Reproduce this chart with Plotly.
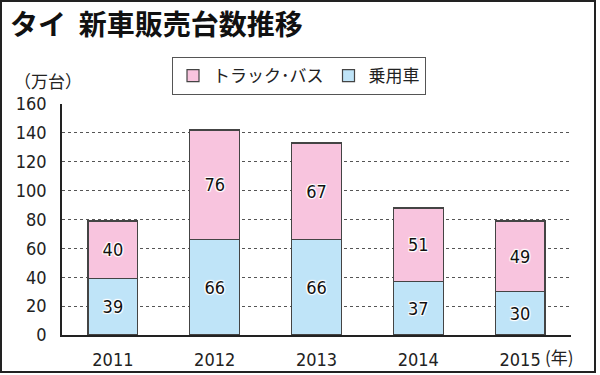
import plotly.graph_objects as go

years = ["2011", "2012", "2013", "2014", "2015"]
passenger = [39, 66, 66, 37, 30]
truck_bus = [40, 76, 67, 51, 49]
y_ticks = [0, 20, 40, 60, 80, 100, 120, 140, 160]

W, H = 600, 375
L, R, T, B = 62, 29, 104, 40
pw, ph = W - L - R, H - T - B

def px(x):
    return (x - L) / pw

def py(y):
    return (H - B - y) / ph

NUM_FONT = "DejaVu Sans Condensed, Liberation Sans Narrow, Liberation Sans, sans-serif"
JP_FONT = "Noto Sans CJK JP, sans-serif"
halo = "1px 1px 1px white, -1px -1px 1px white, 1px -1px 1px white, -1px 1px 1px white, 0px 0px 2px white"

fig = go.Figure()
fig.add_trace(go.Bar(
    x=years, y=passenger, name="乗用車", legendrank=2,
    marker=dict(color="#BFE4F8", line=dict(color="#444444", width=1.2)),
    text=passenger, textposition="inside", insidetextanchor="middle",
    textfont=dict(family=NUM_FONT, size=18, color="#111111", shadow=halo),
    width=0.49,
))
fig.add_trace(go.Bar(
    x=years, y=truck_bus, name="トラック･バス", legendrank=1,
    marker=dict(color="#F8C4DE", line=dict(color="#444444", width=1.2)),
    text=truck_bus, textposition="inside", insidetextanchor="middle",
    textfont=dict(family=NUM_FONT, size=18, color="#111111", shadow=halo),
    width=0.49,
))

fig.update_layout(
    width=W, height=H,
    margin=dict(l=L, r=R, t=T, b=B, autoexpand=False),
    barmode="stack",
    paper_bgcolor="white", plot_bgcolor="white",
    showlegend=True,
    legend=dict(
        orientation="h", x=px(172), y=py(57), xanchor="left", yanchor="top",
        bordercolor="#555555", borderwidth=1, bgcolor="white",
        font=dict(family=JP_FONT, size=17, color="#222222"),
        itemwidth=30, traceorder="normal",
    ),
    xaxis=dict(
        showline=True, linecolor="#222222", linewidth=1.5,
        tickfont=dict(family=NUM_FONT, size=18, color="#222222"),
        ticks="", ticklabelstandoff=8, showgrid=False,
    ),
    yaxis=dict(
        range=[0, 160], tickvals=y_ticks,
        showline=True, linecolor="#222222", linewidth=1.5,
        showgrid=True, gridcolor="#555555", griddash="dot", gridwidth=1,
        tickfont=dict(family=NUM_FONT, size=18, color="#222222"),
        ticks="", ticklabelstandoff=10, zeroline=False,
    ),
    annotations=[
        dict(text="タイ  新車販売台数推移", x=px(8), y=py(23), xref="paper", yref="paper",
             xanchor="left", yanchor="middle", showarrow=False,
             font=dict(family=JP_FONT, size=28, color="#111111", weight="bold")),
        dict(text="（万台）", x=px(12), y=py(80), xref="paper", yref="paper",
             xanchor="left", yanchor="middle", showarrow=False,
             font=dict(family=JP_FONT, size=17, color="#222222")),
        dict(text="(年)", x=px(543), y=py(356), xref="paper", yref="paper",
             xanchor="left", yanchor="middle", showarrow=False,
             font=dict(family=JP_FONT, size=17, color="#222222")),
    ],
    shapes=[
        dict(type="rect", xref="paper", yref="paper",
             x0=px(1), x1=px(595), y0=py(1), y1=py(372),
             line=dict(color="#222222", width=2), fillcolor="rgba(0,0,0,0)", layer="above"),
    ],
)

fig.write_html("out.html", config={"displayModeBar": False},
               post_script="document.body.style.margin='0';document.body.style.padding='0';")
